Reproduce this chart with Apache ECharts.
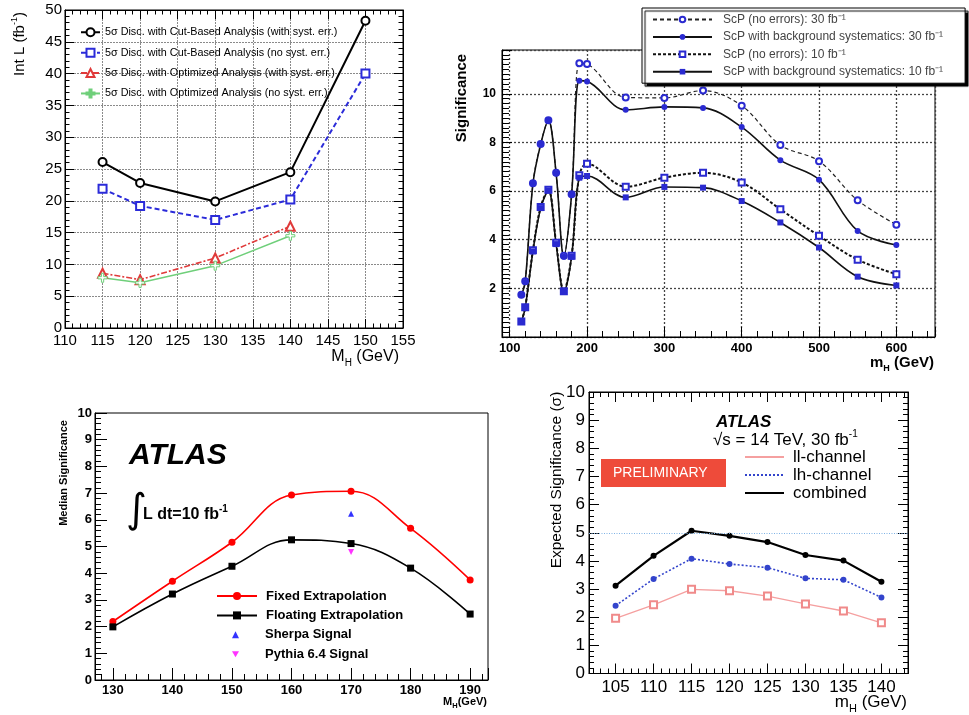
<!DOCTYPE html>
<html><head><meta charset="utf-8">
<script src="https://cdn.jsdelivr.net/npm/echarts@6/dist/echarts.min.js"></script>
<style>html,body{margin:0;padding:0;background:#fff}#c{width:969px;height:715px}</style>
</head><body><div id="c"></div>
<script>
// ---------- Panel A (top left): integrated luminosity for 5 sigma ----------
const massA = [115, 120, 130, 140, 150];
const cutWithSyst = [26.1, 22.8, 19.9, 24.5, 48.3];
const cutNoSyst = [21.9, 19.2, 17.0, 20.2, 40.0];
const massOpt = [115, 120, 130, 140];
const optWithSyst = [8.6, 7.6, 11.0, 16.0];
const optNoSyst = [7.9, 7.1, 9.8, 14.5];
const ticksA_x = [110, 115, 120, 125, 130, 135, 140, 145, 150, 155];
const ticksA_y = [0, 5, 10, 15, 20, 25, 30, 35, 40, 45, 50];

// ---------- Panel B (top right): ScP significance ----------
const massB = [115, 120, 130, 140, 150, 160, 170, 180, 190, 200, 250, 300, 350, 400, 450, 500, 550, 600];
const scp30NoErr = [1.74, 2.29, 6.32, 7.94, 8.91, 6.75, 3.34, 5.87, 11.26, 11.22, 9.85, 9.83, 10.13, 9.51, 7.89, 7.23, 5.62, 4.62];
const scp30Syst = [1.72, 2.26, 6.30, 7.92, 8.90, 6.72, 3.30, 5.85, 10.54, 10.51, 9.34, 9.46, 9.42, 8.63, 7.27, 6.47, 4.36, 3.78];
const scp10NoErr = [0.64, 1.22, 3.57, 5.35, 6.05, 3.87, 1.88, 3.34, 6.65, 7.12, 6.18, 6.55, 6.75, 6.35, 5.25, 4.16, 3.18, 2.58];
const scp10Syst = [0.62, 1.20, 3.52, 5.30, 6.02, 3.82, 1.85, 3.30, 6.55, 6.62, 5.74, 6.17, 6.14, 5.59, 4.71, 3.68, 2.48, 2.12];
const ticksB_x = [100, 200, 300, 400, 500, 600];
const ticksB_y = [2, 4, 6, 8, 10];

// ---------- Panel C (bottom left): median significance ----------
const massC = [130, 140, 150, 160, 170, 180, 190];
const fixedExtrap = [2.19, 3.70, 5.16, 6.93, 7.07, 5.68, 3.75];
const floatingExtrap = [1.99, 3.22, 4.26, 5.25, 5.11, 4.19, 2.47];
const massSignal = [170];
const sherpaSignal = [6.23];
const pythiaSignal = [4.79];
const ticksC_x = [130, 140, 150, 160, 170, 180, 190];
const ticksC_y = [0, 1, 2, 3, 4, 5, 6, 7, 8, 9, 10];

// ---------- Panel D (bottom right): expected significance ----------
const massD = [105, 110, 115, 120, 125, 130, 135, 140];
const llChannel = [1.96, 2.44, 2.99, 2.94, 2.75, 2.47, 2.22, 1.80];
const lhChannel = [2.41, 3.36, 4.08, 3.89, 3.76, 3.38, 3.33, 2.70];
const combinedCh = [3.12, 4.18, 5.07, 4.89, 4.67, 4.21, 4.01, 3.26];
const discoveryLevel = 5;
const ticksD_x = [105, 110, 115, 120, 125, 130, 135, 140];
const ticksD_y = [0, 1, 2, 3, 4, 5, 6, 7, 8, 9, 10];

const FONT = "'Liberation Sans', Arial, Helvetica, sans-serif";
const pairs = (xs, ys) => xs.map((x, i) => [x, ys[i]]);
const fmt = list => v => list.some(t => Math.abs(t - v) < 1e-6) ? String(v) : '';

function ax(o) {
  const a = {
    type: 'value', gridIndex: o.grid, position: o.pos, min: o.min, max: o.max,
    splitNumber: o.split || 5,
    axisLine: {show: true, onZero: false, lineStyle: {color: '#000', width: o.lw || 1}},
    axisTick: {show: true, inside: true, length: o.tl || 9, lineStyle: {color: '#000', width: 1}},
    minorTick: {show: !!o.minor, splitNumber: o.minor || 5, length: o.ml || 5, lineStyle: {color: '#000', width: 1}},
    splitLine: o.gl ? {show: true, lineStyle: o.gl} : {show: false},
    minorSplitLine: {show: false},
    axisLabel: o.labels ? {
      show: true, formatter: fmt(o.labels), margin: o.margin, color: '#000',
      fontFamily: FONT, fontSize: o.fs, fontWeight: o.fw || 'normal',
      hideOverlap: false, showMinLabel: true, showMaxLabel: true
    } : {show: false}
  };
  if (o.interval != null) a.interval = o.interval;
  if (o.fixed != null) { a.minInterval = o.fixed; a.maxInterval = o.fixed; }
  return a;
}

const gridBase = {show: true, borderColor: '#000', borderWidth: 1, backgroundColor: 'transparent', containLabel: false, outerBoundsMode: 'none'};
const gridA = {color: '#8a8a8a', type: [2, 1], width: 1};
const gridBl = {color: '#444', type: [2, 2], width: 1.3};

const blue = '#2a2ad0';
const downTri = 'path://M0,0 L10,0 L5,8.7 Z';
const openCross = 'path://M3,0 L5,0 L5,3 L8,3 L8,5 L5,5 L5,8 L3,8 L3,5 L0,5 L0,3 L3,3 Z';

const nA = ['5σ Disc. with Cut-Based Analysis (with syst. err.)', '5σ Disc. with Cut-Based Analysis (no syst. err.)',
  '5σ Disc. with Optimized Analysis (with syst. err.)', '5σ Disc. with Optimized Analysis (no syst. err.)'];
const nB = ['ScP (no errors): 30 fb⁻¹', 'ScP with background systematics: 30 fb⁻¹', 'ScP (no errors): 10 fb⁻¹', 'ScP with background systematics: 10 fb⁻¹'];
const nC = ['Fixed Extrapolation', 'Floating Extrapolation', 'Sherpa Signal', 'Pythia 6.4 Signal'];
const nD = ['ll-channel', 'lh-channel', 'combined'];

const sub = (fs, fw) => ({fontSize: fs, fontFamily: FONT, fontWeight: fw || 'normal', verticalAlign: 'bottom', lineHeight: fs * 2.2});
const sup = (fs, fw) => ({fontSize: fs, fontFamily: FONT, fontWeight: fw || 'normal', verticalAlign: 'top', lineHeight: fs * 2.2});

function txt(x, y, text, o) {
  return {
    type: 'text', x: x, y: y, rotation: o.rot || 0, z: 100,
    style: {
      text: text, fill: o.color || '#000', fontFamily: o.family || FONT, fontSize: o.fs,
      fontWeight: o.fw || 'normal', fontStyle: o.fst || 'normal',
      align: o.align || 'left', verticalAlign: 'middle', lineHeight: o.lh || o.fs * 1.3,
      rich: o.rich || {}
    }
  };
}

const legendC = {fontSize: 13, fontWeight: 'bold', color: '#000', fontFamily: FONT, lineHeight: 16};

const option = {
  animation: false,
  backgroundColor: '#fff',
  grid: [
    Object.assign({left: 65, top: 10, width: 338, height: 318}, gridBase),
    Object.assign({left: 502, top: 50, width: 433, height: 287}, gridBase),
    Object.assign({left: 95, top: 413, width: 393, height: 267}, gridBase),
    Object.assign({left: 589, top: 392, width: 319, height: 281.5}, gridBase)
  ],
  xAxis: [
    ax({grid: 0, pos: 'bottom', min: 110, max: 155, interval: 5, minor: 5, tl: 9, ml: 4.5, labels: ticksA_x, fs: 15, margin: 5, gl: gridA}),
    ax({grid: 0, pos: 'top', min: 110, max: 155, interval: 5, minor: 5, tl: 9, ml: 4.5}),
    ax({grid: 1, pos: 'bottom', min: 90, max: 650, fixed: 100, split: 5, minor: 5, tl: 10, ml: 6, labels: ticksB_x, fs: 13, fw: 'bold', margin: 5, gl: gridBl}),
    ax({grid: 2, pos: 'bottom', min: 127, max: 193, fixed: 10, split: 6, minor: 5, tl: 12, ml: 6, labels: ticksC_x, fs: 13, fw: 'bold', margin: 4}),
    ax({grid: 3, pos: 'bottom', min: 101.5, max: 143.5, fixed: 5, split: 8, minor: 5, tl: 10, ml: 5, labels: ticksD_x, fs: 17, margin: 5}),
    ax({grid: 3, pos: 'top', min: 101.5, max: 143.5, fixed: 5, split: 8, minor: 5, tl: 10, ml: 5})
  ],
  yAxis: [
    ax({grid: 0, pos: 'left', min: 0, max: 50, interval: 5, minor: 5, tl: 9, ml: 4.5, labels: ticksA_y, fs: 15, margin: 3, gl: gridA}),
    ax({grid: 0, pos: 'right', min: 0, max: 50, interval: 5, minor: 5, tl: 9, ml: 4.5}),
    ax({grid: 1, pos: 'left', min: 0, max: 11.8, interval: 2, minor: 10, tl: 10, ml: 7, labels: ticksB_y, fs: 12, fw: 'bold', margin: 6, gl: gridBl}),
    ax({grid: 2, pos: 'left', min: 0, max: 10, interval: 1, minor: 5, tl: 12, ml: 6, labels: ticksC_y, fs: 13, fw: 'bold', margin: 3}),
    ax({grid: 3, pos: 'left', min: 0, max: 10, interval: 1, minor: 5, tl: 10, ml: 5, labels: ticksD_y, fs: 17, margin: 4}),
    ax({grid: 3, pos: 'right', min: 0, max: 10, interval: 1, minor: 5, tl: 10, ml: 5})
  ],
  legend: [
    {orient: 'vertical', left: 80, top: 26, padding: 0, itemWidth: 19, itemHeight: 10, itemGap: 7.9, selectedMode: false,
      data: nA, textStyle: {fontSize: 10.8, color: '#000', fontFamily: FONT, lineHeight: 12.5}},
    {orient: 'vertical', left: 642, top: 8, padding: [5, 22, 5, 10], itemWidth: 59, itemHeight: 7, itemGap: 4.4, selectedMode: false,
      backgroundColor: '#fff', borderColor: '#000', borderWidth: 1, shadowColor: '#000', shadowBlur: 1, shadowOffsetX: 3, shadowOffsetY: 3,
      data: nB, textStyle: {fontSize: 12, color: '#444', fontFamily: FONT, lineHeight: 13, padding: [0, 0, 0, 6]}},
    {orient: 'vertical', left: 216, top: 588, padding: 0, itemWidth: 40, itemHeight: 10, itemGap: 3.4, selectedMode: false,
      data: nC.slice(0, 2), textStyle: Object.assign({padding: [0, 0, 0, 4]}, legendC)},
    {orient: 'vertical', left: 232, top: 626.8, padding: 0, itemWidth: 7, itemHeight: 7, itemGap: 3.4, selectedMode: false,
      data: nC.slice(2), textStyle: Object.assign({padding: [0, 0, 0, 21]}, legendC)},
    {orient: 'vertical', left: 744, top: 448, padding: 0, itemWidth: 39, itemHeight: 10, itemGap: 0, selectedMode: false,
      itemStyle: {opacity: 0},
      data: nD, textStyle: {fontSize: 17, color: '#000', fontFamily: FONT, lineHeight: 18, padding: [0, 0, 0, 4]}}
  ],
  series: [
    // Panel A
    {name: nA[0], type: 'line', xAxisIndex: 0, yAxisIndex: 0, data: pairs(massA, cutWithSyst),
      symbol: 'emptyCircle', symbolSize: 8, lineStyle: {color: '#000', width: 2}, itemStyle: {color: '#000', borderWidth: 1.2}},
    {name: nA[1], type: 'line', xAxisIndex: 0, yAxisIndex: 0, data: pairs(massA, cutNoSyst),
      symbol: 'emptyRect', symbolSize: 8, lineStyle: {color: '#2b2bd9', width: 2, type: [5, 3]}, itemStyle: {color: '#2b2bd9', borderWidth: 1.2}},
    {name: nA[2], type: 'line', xAxisIndex: 0, yAxisIndex: 0, data: pairs(massOpt, optWithSyst),
      symbol: 'emptyTriangle', symbolSize: 9, lineStyle: {color: '#e03a3a', width: 1.6, type: [6, 2, 2, 2]}, itemStyle: {color: '#e03a3a', borderWidth: 1.2}},
    {name: nA[3], type: 'line', xAxisIndex: 0, yAxisIndex: 0, data: pairs(massOpt, optNoSyst),
      symbol: openCross, symbolSize: 9, lineStyle: {color: '#6fcf7a', width: 1.5}, itemStyle: {color: '#fff', borderColor: '#6fcf7a', borderWidth: 1}},
    // Panel B
    {name: nB[0], type: 'line', xAxisIndex: 2, yAxisIndex: 2, data: pairs(massB, scp30NoErr), smooth: 0.35,
      symbol: 'emptyCircle', symbolSize: 6, lineStyle: {color: '#222', width: 1.2, type: [4, 3]}, itemStyle: {color: blue, borderWidth: 1.6}},
    {name: nB[1], type: 'line', xAxisIndex: 2, yAxisIndex: 2, data: pairs(massB, scp30Syst), smooth: 0.35,
      symbol: 'circle', symbolSize: 6, lineStyle: {color: '#111', width: 1.6}, itemStyle: {color: blue}},
    {name: nB[2], type: 'line', xAxisIndex: 2, yAxisIndex: 2, data: pairs(massB, scp10NoErr), smooth: 0.35,
      symbol: 'emptyRect', symbolSize: 6, lineStyle: {color: '#111', width: 2, type: [3, 2]}, itemStyle: {color: blue, borderWidth: 1.6}},
    {name: nB[3], type: 'line', xAxisIndex: 2, yAxisIndex: 2, data: pairs(massB, scp10Syst), smooth: 0.35,
      symbol: 'rect', symbolSize: 6, lineStyle: {color: '#111', width: 1.6}, itemStyle: {color: blue}},
    // Panel C
    {name: nC[0], type: 'line', xAxisIndex: 3, yAxisIndex: 3, data: pairs(massC, fixedExtrap), smooth: 0.4,
      symbol: 'circle', symbolSize: 7, lineStyle: {color: '#ff0000', width: 1.6}, itemStyle: {color: '#ff0000'}},
    {name: nC[1], type: 'line', xAxisIndex: 3, yAxisIndex: 3, data: pairs(massC, floatingExtrap), smooth: 0.4,
      symbol: 'rect', symbolSize: 7, lineStyle: {color: '#000', width: 1.6}, itemStyle: {color: '#000'}},
    {name: nC[2], type: 'scatter', xAxisIndex: 3, yAxisIndex: 3, data: pairs(massSignal, sherpaSignal),
      symbol: 'triangle', symbolSize: 6, itemStyle: {color: '#0000ff'}},
    {name: nC[3], type: 'scatter', xAxisIndex: 3, yAxisIndex: 3, data: pairs(massSignal, pythiaSignal),
      symbol: downTri, symbolSize: 6, itemStyle: {color: '#ff00ff'}},
    // Panel D
    {name: nD[0], type: 'line', xAxisIndex: 4, yAxisIndex: 4, data: pairs(massD, llChannel),
      symbol: 'emptyRect', symbolSize: 7, lineStyle: {color: '#f5a0a0', width: 1.3}, itemStyle: {color: '#f08a8a', borderWidth: 1.2}},
    {name: nD[1], type: 'line', xAxisIndex: 4, yAxisIndex: 4, data: pairs(massD, lhChannel),
      symbol: 'circle', symbolSize: 6, lineStyle: {color: '#3344cc', width: 1.6, type: [2, 2]}, itemStyle: {color: '#3344cc'}},
    {name: nD[2], type: 'line', xAxisIndex: 4, yAxisIndex: 4, data: pairs(massD, combinedCh),
      symbol: 'circle', symbolSize: 6, lineStyle: {color: '#000', width: 2.2}, itemStyle: {color: '#000'},
      markLine: {silent: true, symbol: ['none', 'none'], label: {show: false},
        lineStyle: {color: '#7fb2e5', type: [1, 1.5], width: 1}, data: [{yAxis: discoveryLevel}]}}
  ],
  graphic: {elements: [
    // Panel A titles
    txt(20, 44, 'Int L (fb{s|-1})', {fs: 15, rot: Math.PI / 2, align: 'center', rich: {s: sup(9)}}),
    txt(399, 357, 'M{b|H} (GeV)', {fs: 16, align: 'right', rich: {b: sub(10)}}),
    // Panel B titles
    txt(462, 98, 'Significance', {fs: 15, fw: 'bold', rot: Math.PI / 2, align: 'center'}),
    txt(934, 363, 'm{b|H} (GeV)', {fs: 15, fw: 'bold', align: 'right', rich: {b: sub(9, 'bold')}}),
    // Panel C titles and annotations
    txt(63.5, 473, 'Median Significance', {fs: 11, fw: 'bold', rot: Math.PI / 2, align: 'center'}),
    txt(487, 702, 'M{b|H}(GeV)', {fs: 11, fw: 'bold', align: 'right', rich: {b: sub(7.5, 'bold')}}),
    txt(129, 456, 'ATLAS', {fs: 30, fw: 'bold', fst: 'italic'}),
    txt(126, 512, '∫', {fs: 40, family: "'DejaVu Sans', sans-serif"}),
    txt(143, 515, 'L dt=10 fb{s|-1}', {fs: 16, fw: 'bold', rich: {s: sup(10, 'bold')}}),
    // Panel D titles and annotations
    txt(556.5, 480, 'Expected Significance (σ)', {fs: 15.5, rot: Math.PI / 2, align: 'center'}),
    txt(907, 702, 'm{b|H} (GeV)', {fs: 17, align: 'right', rich: {b: sub(11)}}),
    txt(716, 422, 'ATLAS', {fs: 17, fw: 'bold', fst: 'italic'}),
    txt(713, 440, '√s = 14 TeV, 30 fb{s|-1}', {fs: 17, rich: {s: sup(10)}}),
    {type: 'rect', x: 601, y: 459, z: 99, shape: {width: 125, height: 28}, style: {fill: '#ee4b3a'}},
    txt(613, 473.5, 'PRELIMINARY', {fs: 14, color: '#fff'})
  ]}
};

const chart = echarts.init(document.getElementById('c'), null, {renderer: 'canvas'});
chart.setOption(option);
</script>
</body></html>
